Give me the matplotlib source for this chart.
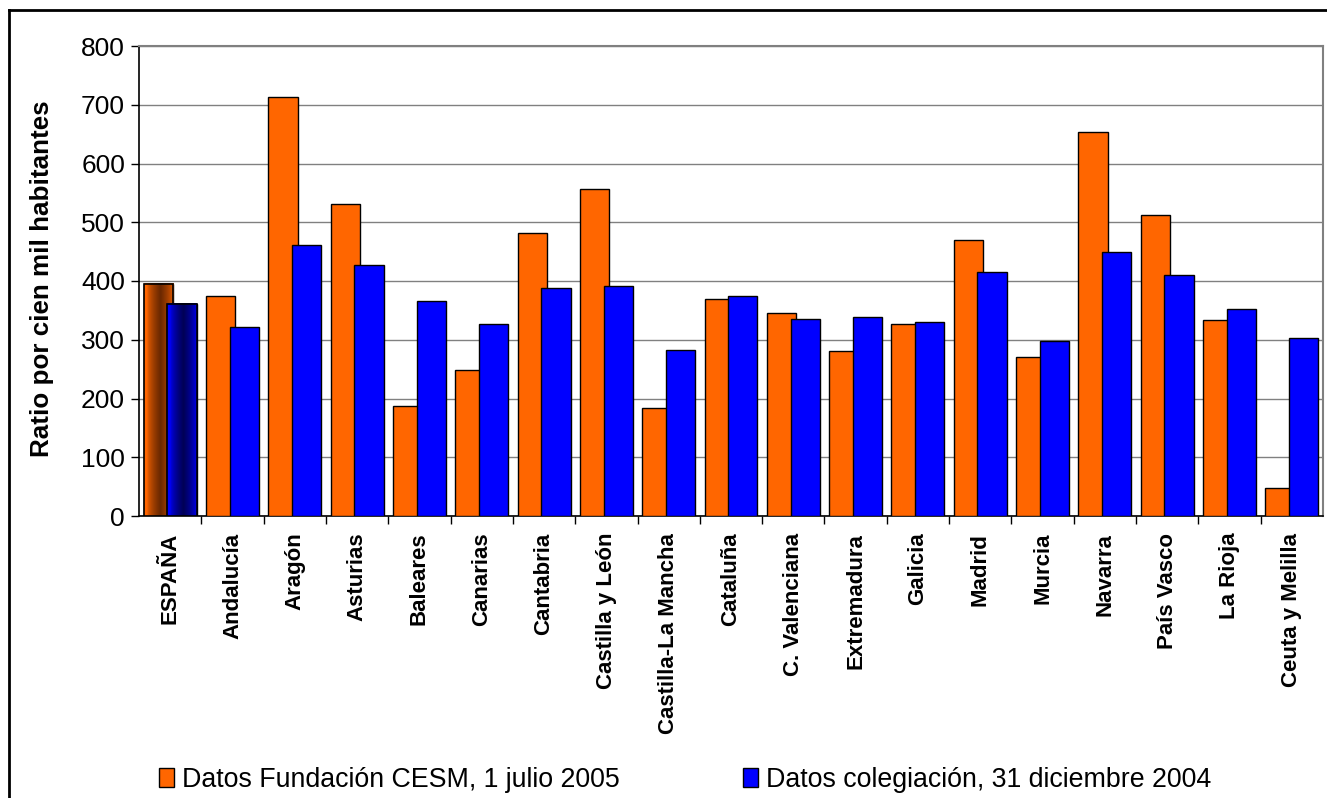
import matplotlib
matplotlib.use("Agg")
import matplotlib.pyplot as plt
import numpy as np
from matplotlib.lines import Line2D

plt.rcParams['font.family'] = ['Liberation Sans', 'DejaVu Sans']

regiones = ["ESPAÑA", "Andalucía", "Aragón", "Asturias", "Baleares", "Canarias",
            "Cantabria", "Castilla y León", "Castilla-La Mancha", "Cataluña",
            "C. Valenciana", "Extremadura", "Galicia", "Madrid", "Murcia",
            "Navarra", "País Vasco", "La Rioja", "Ceuta y Melilla"]

cesm_2005 = [395, 374, 713, 531, 187, 249, 482, 557, 184, 369,
             346, 281, 327, 470, 271, 654, 512, 334, 48]
colegiacion_2004 = [361, 322, 461, 427, 366, 327, 388, 391, 283, 374,
                    335, 339, 330, 415, 298, 449, 410, 352, 303]

etiqueta_cesm = "Datos Fundación CESM, 1 julio 2005"
etiqueta_coleg = "Datos colegiación, 31 diciembre 2004"

naranja = "#FF6600"
azul = "#0000FF"

fig = plt.figure(figsize=(13.27, 7.98), dpi=100)
ax = fig.add_axes([139 / 1327, 1 - 516 / 798, 1184 / 1327, 470 / 798])

x = np.arange(len(regiones))
w = 0.47
off = 0.19
b1 = ax.bar(x - off, cesm_2005, w, color=naranja, edgecolor="black", linewidth=1.0,
            zorder=3, label=etiqueta_cesm)
b2 = ax.bar(x + off, colegiacion_2004, w, color=azul, edgecolor="black", linewidth=1.0,
            zorder=4, label=etiqueta_coleg)

# gradient fill for the national totals (dark in the middle)
def relleno_gradiente(bar, base, oscuro, z):
    x0 = bar.get_x()
    x1 = x0 + bar.get_width()
    h = bar.get_height()
    t = np.linspace(0, 1, 64)
    k = np.clip(1 - np.abs(t - 0.55) / 0.45, 0, 1) ** 0.6
    base = np.array(matplotlib.colors.to_rgb(base))
    oscuro = np.array(matplotlib.colors.to_rgb(oscuro))
    img = base[None, :] * (1 - k[:, None]) + oscuro[None, :] * k[:, None]
    ax.imshow(img[None, :, :], extent=[x0, x1, 0, h], aspect="auto",
              zorder=z, interpolation="bilinear")
    ax.add_patch(plt.Rectangle((x0, 0), x1 - x0, h, fill=False,
                               edgecolor="black", linewidth=1.2, zorder=z + 0.1))

relleno_gradiente(b1[0], naranja, "#6A2800", 3.5)
relleno_gradiente(b2[0], azul, "#000055", 4.5)

ax.set_xlim(-0.5, len(regiones) - 0.5)
ax.set_ylim(0, 800)
ax.set_yticks(np.arange(0, 801, 100))
ax.yaxis.grid(True, color="#808080", linewidth=1.0, zorder=0)
ax.set_axisbelow(True)

ax.set_xticks(x)
ax.set_xticklabels(regiones, rotation=90, fontsize=16, fontweight="bold", va="top")
ax.set_xticks(np.arange(0.5, len(regiones) - 0.5), minor=True)
ax.tick_params(axis="x", which="major", length=0, pad=12)
ax.tick_params(axis="x", which="minor", length=6, width=1, color="black")
ax.tick_params(axis="y", labelsize=19, length=6, width=1, pad=4)

ax.set_ylabel("Ratio por cien mil habitantes", fontsize=18.7, fontweight="bold")
ax.yaxis.set_label_coords(-0.072, 0.505)

for s in ["top", "right"]:
    ax.spines[s].set_color("#808080")
    ax.spines[s].set_linewidth(1.5)
for s in ["left", "bottom"]:
    ax.spines[s].set_color("black")
    ax.spines[s].set_linewidth(1.2)

fig.legend(handles=[b1, b2], loc="center left", bbox_to_anchor=(159 / 1327, 1 - 780 / 798),
           ncol=2, frameon=False, fontsize=19.3, handlelength=0.55, handleheight=0.75,
           handletextpad=0.3, columnspacing=4.6, borderpad=0, borderaxespad=0)

# outer chart border
fig.add_artist(Line2D([9 / 1327, 9 / 1327], [0, 1 - 10 / 798], transform=fig.transFigure,
                      color="black", linewidth=2))
fig.add_artist(Line2D([9 / 1327, 1], [1 - 10 / 798, 1 - 10 / 798], transform=fig.transFigure,
                      color="black", linewidth=2))

fig.savefig("out.png", dpi=100)
